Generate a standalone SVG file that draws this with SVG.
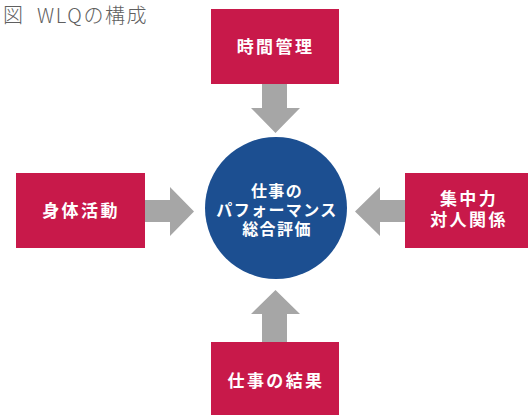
<svg xmlns="http://www.w3.org/2000/svg" width="528" height="415" viewBox="0 0 528 415">
<style>
.box{fill:#c8194a}
.arr{fill:#a6a6a6}
.lbl{fill:#fff;font-family:"Noto Sans CJK JP",sans-serif;font-weight:bold;font-size:17px;letter-spacing:2.4px;text-anchor:middle}
.cl{fill:#fff;font-family:"Noto Sans CJK JP",sans-serif;font-weight:bold;font-size:16px;letter-spacing:1.4px;text-anchor:middle}
.title{fill:#5f5f5f;font-family:"Noto Sans CJK JP",sans-serif;font-weight:300;font-size:20px;letter-spacing:1.6px}
</style>
<rect width="528" height="415" fill="#fff"/>
<text class="title" x="3" y="23">図<tspan x="37">WLQの構成</tspan></text>
<g id="connectors">
<polygon class="arr" points="262,84 287,84 287,108 300,108 275.5,133 251,108 262,108"/>
<polygon class="arr" points="145,200 170,200 170,187 194,211.5 170,236 170,222 145,222"/>
<polygon class="arr" points="405,200 380,200 380,187 355,211.5 380,236 380,222 405,222"/>
<polygon class="arr" points="262,342 287,342 287,314 300,314 275.5,290 251,314 262,314"/>
</g>
<g id="center">
<circle cx="276" cy="208" r="71" fill="#1c4f91"/>
<text class="cl" x="277" y="197">仕事の</text>
<text class="cl" x="277" y="216">パフォーマンス</text>
<text class="cl" x="277" y="235">総合評価</text>
</g>
<g id="top">
<rect class="box" x="211" y="9" width="128" height="75"/>
<text class="lbl" x="275.5" y="53">時間管理</text>
</g>
<g id="left">
<rect class="box" x="16" y="173" width="129" height="75"/>
<text class="lbl" x="81" y="217">身体活動</text>
</g>
<g id="right">
<rect class="box" x="405" y="173" width="123" height="75"/>
<text class="lbl" x="469" y="205">集中力</text>
<text class="lbl" x="469" y="226">対人関係</text>
</g>
<g id="bottom">
<rect class="box" x="211" y="342" width="128" height="73"/>
<text class="lbl" x="276" y="387">仕事の結果</text>
</g>
</svg>
